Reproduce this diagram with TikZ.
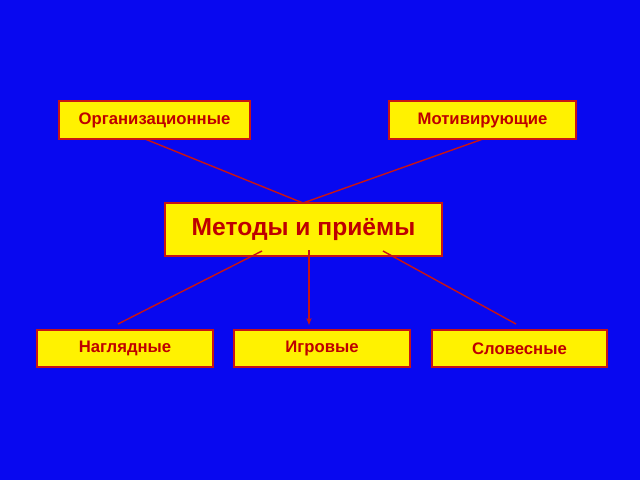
\documentclass[tikz,border=0pt]{standalone}
\usepackage{fontspec}
\setmainfont{Liberation Sans}
\usetikzlibrary{arrows.meta}
\definecolor{bgblue}{RGB}{8,8,240}
\definecolor{boxred}{RGB}{200,20,20}
\definecolor{textred}{RGB}{190,0,0}

\begin{document}
\begin{tikzpicture}[x=0.02cm,y=-0.02cm]
\begin{scope}[every node/.style={fill=yellow,draw=boxred,thick,text=textred,font=\bfseries\fontsize{9.5}{11}\selectfont,inner sep=0pt}]
    \fill [bgblue] (0,0) rectangle (640,480);
    \useasboundingbox (0,0) rectangle (640,480);

    \node [minimum width=3.82cm, minimum height=0.76cm] (org) at (154.5,120) {Организационные};
    \node [minimum width=3.74cm, minimum height=0.76cm] (mot) at (482.5,120) {Мотивирующие};
    \node [minimum width=5.54cm, minimum height=1.06cm, font=\bfseries\fontsize{14}{16}\selectfont] (met) at (303.5,229.5) {Методы и приёмы};
    \node [minimum width=3.52cm, minimum height=0.74cm] (nag) at (125,348.5) {Наглядные};
    \node [minimum width=3.52cm, minimum height=0.74cm] (igr) at (322,348.5) {Игровые};
    \node [minimum width=3.5cm, minimum height=0.74cm] (slo) at (519.5,348.5) {Словесные};

    \coordinate (o1) at (145,139);
    \coordinate (o2) at (483,139);
    \coordinate (top) at (303,203);
    \coordinate (m1) at (262,251);
    \coordinate (m2) at (309,250);
    \coordinate (m3) at (383,251);
    \coordinate (e1) at (118,324);
    \coordinate (e2) at (309,325);
    \coordinate (e3) at (516,324);

    \draw [boxred, thick] (o1) -- (top);
    \draw [boxred, thick] (o2) -- (top);
    \draw [boxred, thick] (m1) -- (e1);
    \draw [boxred, thick, -{Stealth[length=4pt,width=3pt]}] (m2) -- (e2);
    \draw [boxred, thick] (m3) -- (e3);
\end{scope}
\end{tikzpicture}
\end{document}
